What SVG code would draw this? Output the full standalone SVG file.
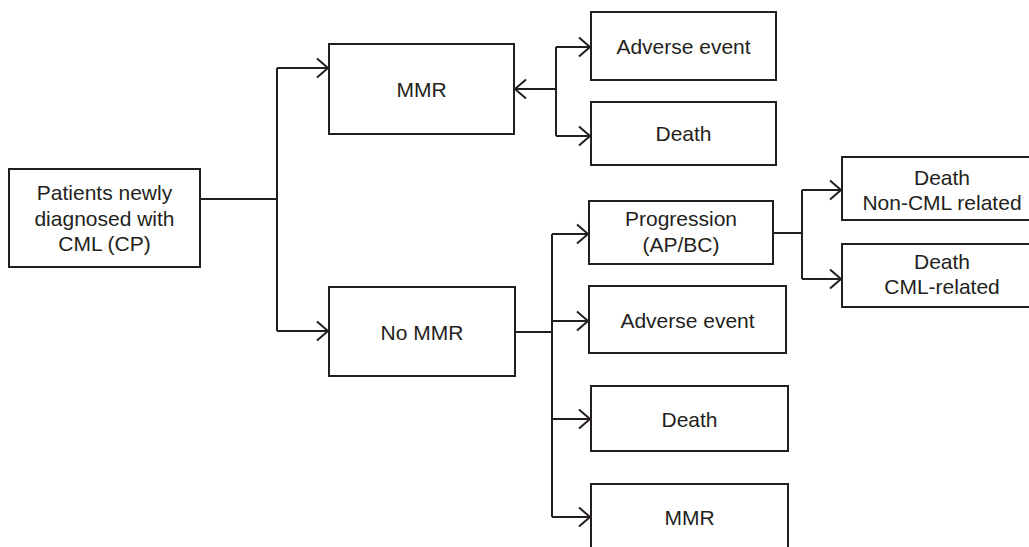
<svg xmlns="http://www.w3.org/2000/svg" width="1029" height="547" viewBox="0 0 1029 547">
<style>
.box{fill:#fff;stroke:#231f20;stroke-width:2}
.lbl{font-family:"Liberation Sans",Arial,sans-serif;font-size:21px;fill:#231f20;text-anchor:middle}
.con{fill:none;stroke:#231f20;stroke-width:2}
</style>
<defs>
<marker id="arr" markerUnits="userSpaceOnUse" markerWidth="24" markerHeight="24" viewBox="-14 -12 16 24" refX="0" refY="0" orient="auto">
<path d="M-11,-9.5 L0,0 L-11,9.5" fill="none" stroke="#231f20" stroke-width="2"/>
</marker>
</defs>
<rect width="1029" height="547" fill="#fff"/>
<g id="connectors">
<path class="con" d="M200,199 H277 M277,68 V331"/>
<path class="con" d="M277,68 H328" marker-end="url(#arr)"/>
<path class="con" d="M277,331 H328" marker-end="url(#arr)"/>
<path class="con" d="M556,47 V136"/>
<path class="con" d="M556,89 H515" marker-end="url(#arr)"/>
<path class="con" d="M556,47 H590" marker-end="url(#arr)"/>
<path class="con" d="M556,136 H590" marker-end="url(#arr)"/>
<path class="con" d="M515,332 H552 M552,234 V517"/>
<path class="con" d="M552,234 H588" marker-end="url(#arr)"/>
<path class="con" d="M552,321 H588" marker-end="url(#arr)"/>
<path class="con" d="M552,419 H590" marker-end="url(#arr)"/>
<path class="con" d="M552,517 H590" marker-end="url(#arr)"/>
<path class="con" d="M773,233 H802 M802,190 V279"/>
<path class="con" d="M802,190 H841" marker-end="url(#arr)"/>
<path class="con" d="M802,279 H841" marker-end="url(#arr)"/>
</g>
<g id="patients"><rect class="box" x="9" y="169" width="191" height="98"/>
<text class="lbl" x="104.5" y="200">Patients newly</text>
<text class="lbl" x="104.5" y="225.5">diagnosed with</text>
<text class="lbl" x="104.5" y="251">CML (CP)</text></g>
<g id="mmr"><rect class="box" x="329" y="44" width="185" height="90"/>
<text class="lbl" x="421.5" y="96.5">MMR</text></g>
<g id="nommr"><rect class="box" x="329" y="287" width="186" height="89"/>
<text class="lbl" x="422" y="339.5">No MMR</text></g>
<g id="ae1"><rect class="box" x="591" y="12" width="185" height="68"/>
<text class="lbl" x="683.5" y="54">Adverse event</text></g>
<g id="death1"><rect class="box" x="591" y="102" width="185" height="63"/>
<text class="lbl" x="683.5" y="141">Death</text></g>
<g id="progression"><rect class="box" x="589" y="201" width="184" height="63"/>
<text class="lbl" x="681" y="226">Progression</text>
<text class="lbl" x="681" y="252">(AP/BC)</text></g>
<g id="ae2"><rect class="box" x="589" y="286" width="197" height="67"/>
<text class="lbl" x="687.5" y="327.5">Adverse event</text></g>
<g id="death2"><rect class="box" x="591" y="386" width="197" height="65"/>
<text class="lbl" x="689.5" y="426.5">Death</text></g>
<g id="mmr2"><rect class="box" x="591" y="484" width="197" height="80"/>
<text class="lbl" x="689.5" y="525">MMR</text></g>
<g id="deathnoncml"><rect class="box" x="842" y="157" width="200" height="63"/>
<text class="lbl" x="942" y="185">Death</text>
<text class="lbl" x="942" y="210">Non-CML related</text></g>
<g id="deathcml"><rect class="box" x="842" y="244" width="200" height="63"/>
<text class="lbl" x="942" y="269">Death</text>
<text class="lbl" x="942" y="293.5">CML-related</text></g>
</svg>
